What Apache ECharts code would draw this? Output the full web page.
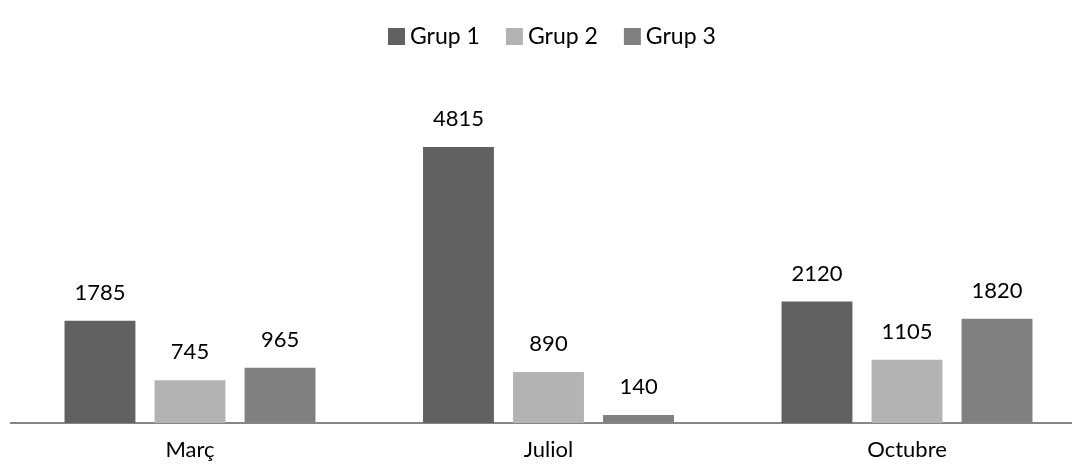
<!DOCTYPE html>
<html>
<head>
<meta charset="utf-8">
<script src="https://cdn.jsdelivr.net/npm/echarts@6/dist/echarts.min.js"></script>
<style>html,body{margin:0;padding:0;background:#fff;}#c{width:1072px;height:468px;}</style>
</head>
<body>
<div id="c"></div>
<script>
const categories = ['Març', 'Juliol', 'Octubre'];
const seriesNames = ['Grup 1', 'Grup 2', 'Grup 3'];
const grup1 = [1785, 4815, 2120];
const grup2 = [745, 890, 1105];
const grup3 = [965, 140, 1820];
const colors = ['#616161', '#b3b3b3', '#808080'];

const FONT = 'Lato';
const chart = echarts.init(document.getElementById('c'), null, {renderer: 'canvas'});
const values = [grup1, grup2, grup3];
chart.setOption({
  animation: false,
  backgroundColor: '#ffffff',
  color: colors,
  textStyle: {fontFamily: FONT},
  legend: {
    top: 20, left: 383,
    itemWidth: 17, itemHeight: 17, itemGap: 26,
    icon: 'rect',
    textStyle: {fontSize: 23, color: '#000', fontFamily: FONT},
    data: seriesNames
  },
  grid: {left: 10.75, right: -14.25, top: 79, bottom: 45, containLabel: false, outerBoundsMode: 'none'},
  xAxis: {
    type: 'category', data: categories,
    axisLine: {show: true, lineStyle: {color: '#868686', width: 2}},
    axisTick: {show: false},
    axisLabel: {fontSize: 22, color: '#000', margin: 16, fontFamily: FONT}
  },
  yAxis: {type: 'value', min: 0, max: 6000, show: false, splitLine: {show: false}},
  series: seriesNames.map((n, i) => ({
    name: n, type: 'bar', data: values[i],
    barGap: '27%', barCategoryGap: '30%',
    itemStyle: {color: colors[i]},
    label: {show: true, position: 'top', distance: 17, fontSize: 22, color: '#000', fontFamily: FONT}
  }))
});
</script>
</body>
</html>
